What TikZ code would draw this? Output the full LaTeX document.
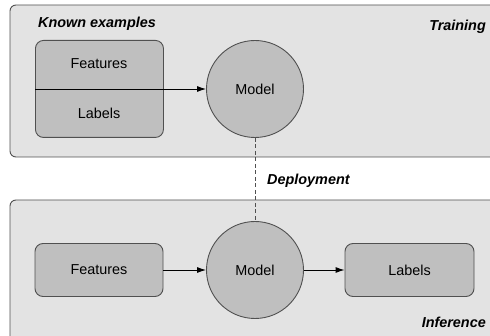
\documentclass[tikz,border=0pt]{standalone}
\usepackage{fontspec}
\setmainfont{Liberation Sans}
\usetikzlibrary{arrows.meta}
\definecolor{outerfill}{HTML}{E3E3E3}
\definecolor{innerfill}{HTML}{BFBFBF}
\definecolor{edge}{HTML}{505050}
\begin{document}
\begin{tikzpicture}[x=1pt,y=-1pt,
  panel/.style={draw=edge,fill=outerfill,line width=0.9pt,rounded corners=6pt},
  box/.style={draw=edge,fill=innerfill,line width=0.9pt,rounded corners=8pt},
  modelnode/.style={circle,draw=edge,fill=innerfill,line width=0.9pt,minimum size=97pt,inner sep=0pt,font=\fontsize{14.4}{16}\selectfont},
  txt/.style={font=\fontsize{14.4}{16}\selectfont,inner sep=0pt},
  title/.style={font=\fontsize{14.4}{16}\selectfont\bfseries\itshape,inner sep=0pt},
  conn/.style={draw=black,line width=0.9pt,-{Latex[length=9pt,width=6pt]}}]
\useasboundingbox (0,0) rectangle (490,336);
% panels
\draw[panel] (10,5) rectangle (500,157);
\draw[panel] (10,200) rectangle (500,346);
% top
\node[box,minimum width=128pt,minimum height=97pt,anchor=north west] (known) at (35,40) {};
\node[txt] (kf) at (99,64) {Features};
\node[txt] (kl) at (99,113) {Labels};
\node[modelnode] (m1) at (255,89) {Model};
\coordinate (kstart) at (35,89);
\draw[conn] (kstart) -- (m1.west);
\node[title,anchor=west] (ke) at (38,24) {Known examples};
\node[title,anchor=east] (tr) at (486,27) {Training};
% bottom
\node[box,minimum width=128pt,minimum height=53pt] (feat) at (99,270) {\fontsize{14.4}{16}\selectfont Features};
\node[modelnode] (m2) at (255,270) {Model};
\node[box,minimum width=129pt,minimum height=53pt] (lab) at (409.5,270) {\fontsize{14.4}{16}\selectfont Labels};
\draw[conn] (feat) -- (m2);
\draw[conn] (m2) -- (lab);
\node[title,anchor=east] (inf) at (486,322) {Inference};
% deployment
\draw[edge,line width=0.9pt,dash pattern=on 4pt off 2.5pt] (m1.south) -- (m2.north);
\node[title,anchor=west] (dep) at (267,181) {Deployment};
\end{tikzpicture}
\end{document}
